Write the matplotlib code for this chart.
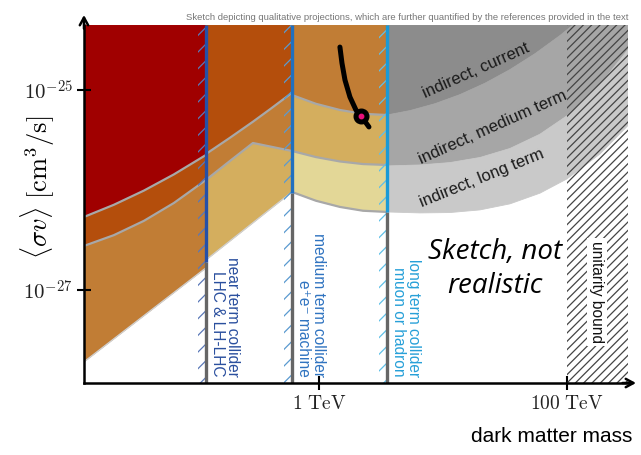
import matplotlib
matplotlib.use("Agg")
import matplotlib.pyplot as plt
from matplotlib.ticker import NullLocator

plt.rcParams["mathtext.fontset"] = "cm"
plt.rcParams["hatch.linewidth"] = 0.9

SANS = ["Liberation Sans", "DejaVu Sans"]

# Axis ranges: dark matter mass [TeV], <sigma v> [cm^3/s]
mass_range = (0.01274, 310.4)
sv_range = (1.17e-28, 4.47e-25)

# Collider reach edges (TeV) and the cross section down to which the edge is coloured
collider_mass = [0.1227, 0.6057, 3.535]
collider_colored_to = [1.9e-27, 9.3e-27, 6.0e-27]
collider_labels = ["near term collider\nLHC & LH-LHC",
                   "medium term collider\ne\u207ae\u207b machine",
                   "long term collider\nmuon or hadron"]
unitarity_mass = 100.0

# Near-term collider region
m_1 = [0.01274, 0.02222, 0.03879, 0.06771, 0.1227]
sv_a1 = [5.37e-27, 7.11e-27, 9.86e-27, 1.432e-26, 2.239e-26]
sv_b1 = [2.754e-27, 3.532e-27, 4.909e-27, 7.413e-27, 1.259e-26]
m_f1 = [0.01274, 0.1227]
sv_f1 = [1.905e-28, 1.66e-27]

# Medium-term collider region
m_2 = [0.1227, 0.1915, 0.2936, 0.4025, 0.6057]
sv_a2 = [2.291e-26, 3.327e-26, 4.819e-26, 6.412e-26, 9.376e-26]
sv_b2 = [1.259e-26, 1.950e-26, 2.951e-26, 2.723e-26, 2.455e-26]
m_f2 = [0.1227, 0.6057]
sv_f2 = [1.995e-27, 9.55e-27]

# Long-term collider region
m_3 = [0.6057, 0.9458, 1.477, 2.264, 3.535]
sv_a3 = [8.913e-26, 7.278e-26, 6.310e-26, 5.781e-26, 5.623e-26]
sv_b3 = [2.455e-26, 2.133e-26, 1.928e-26, 1.816e-26, 1.778e-26]
sv_e3 = [9.55e-27, 7.798e-27, 6.761e-27, 6.194e-27, 6.026e-27]

# Indirect detection bands
m_a4 = [3.535, 5.420, 8.619, 13.71, 21.82, 34.70, 55.20, 87.81, 139.7, 222.3, 310.4]
sv_a4 = [5.623e-26, 6.223e-26, 7.295e-26, 8.995e-26, 1.169e-25, 1.600e-25,
         2.307e-25, 3.508e-25, 5.610e-25, 9.441e-25, 1.413e-24]
m_4 = [3.535, 6.524, 11.39, 19.88, 34.70, 60.57, 100.0, 184.6, 310.4]
sv_b4 = [1.738e-26, 1.779e-26, 1.879e-26, 2.113e-26, 2.600e-26, 3.614e-26,
         5.521e-26, 1.130e-25, 2.529e-25]
sv_e4 = [6.026e-27, 5.892e-27, 5.943e-27, 6.316e-27, 7.261e-27, 9.290e-27,
         1.291e-26, 2.291e-26, 4.416e-26]

# Example model track and benchmark point
m_track = [1.476, 1.533, 1.621, 1.778, 1.988, 2.182, 2.53]
sv_track = [2.69e-25, 1.86e-25, 1.26e-25, 8.51e-26, 6.31e-26, 5.5e-26, 4.27e-26]
bench_m, bench_sv = 2.182, 5.5e-26

C_RED = "#a00000"
C_DORANGE = "#b44e0c"
C_ORANGE = "#c17d35"
C_TAN = "#d4ae5e"
C_PALE = "#e3d797"
C_GREY1 = "#8c8c8c"
C_GREY2 = "#a6a6a6"
C_GREY3 = "#c9c9c9"
C_EDGE = "#a8a8a8"

fig = plt.figure(figsize=(6.41, 4.55), dpi=100)
ax = fig.add_axes([0.1310, 0.1582, 0.8487, 0.7868])
ax.set_xscale("log")
ax.set_yscale("log")
ax.set_xlim(*mass_range)
ax.set_ylim(*sv_range)
top = sv_range[1]


def band(xu, yu, xl, yl, color):
    xs = list(xu) + list(xl)[::-1]
    ys = list(yu) + list(yl)[::-1]
    ax.fill(xs, ys, facecolor=color, edgecolor=color, lw=0.6, zorder=1)


def top_band(x0, x1, xl, yl, color):
    band([x0, x1], [top, top], xl, yl, color)


# near-term region
top_band(m_1[0], m_1[-1], m_1, sv_a1, C_RED)
band(m_1, sv_a1, m_1, sv_b1, C_DORANGE)
band(m_1, sv_b1, m_f1, sv_f1, C_ORANGE)
# medium-term region
top_band(m_2[0], m_2[-1], m_2, sv_a2, C_DORANGE)
band(m_2, sv_a2, m_2, sv_b2, C_ORANGE)
band(m_2, sv_b2, m_f2, sv_f2, C_TAN)
# long-term region
top_band(m_3[0], m_3[-1], m_3, sv_a3, C_ORANGE)
band(m_3, sv_a3, m_3, sv_b3, C_TAN)
band(m_3, sv_b3, m_3, sv_e3, C_PALE)
# indirect detection
top_band(m_a4[0], m_a4[-1], m_a4, sv_a4, C_GREY1)
band(m_a4, sv_a4, m_4, sv_b4, C_GREY2)
band(m_4, sv_b4, m_4, sv_e4, C_GREY3)

# band outlines
for xs, ys in [(m_1, sv_a1), (m_1, sv_b1), (m_2, sv_a2), (m_2, sv_b2),
               (m_3, sv_a3), (m_3, sv_b3), (m_3, sv_e3)]:
    ax.plot(xs, ys, color=C_EDGE, lw=1.6, zorder=2, solid_capstyle="butt",
            solid_joinstyle="round")
for xs, ys in [(m_f1, sv_f1), (m_f2, sv_f2)]:
    ax.plot(xs, ys, color="#d0d0d0", lw=1.0, zorder=2)

# collider reach edges
line_colors = ["#2550a8", "#2070c0", "#1a9ad6"]
hatch_colors = ["#5a78b8", "#5a9ad0", "#60c0e8"]
text_colors = ["#2a4f9e", "#2f73c0", "#27a0d8"]
strip = 0.862
for m, svc, lc, hc in zip(collider_mass, collider_colored_to, line_colors, hatch_colors):
    ax.fill_betweenx([sv_range[0], top], m * strip, m, facecolor="none",
                     edgecolor=hc, linewidth=0, hatch="//", zorder=3)
    ax.plot([m, m], [sv_range[0], svc], color="#666666", lw=2.4, zorder=4,
            solid_capstyle="butt")
    ax.plot([m, m], [svc, top], color=lc, lw=2.4, zorder=4, solid_capstyle="butt")

label_x = [0.1746, 0.862, 5.03]
for x, txt, tc in zip(label_x, collider_labels, text_colors):
    ax.text(x, 1.35e-28, txt, rotation=-90, ha="center", va="bottom",
            multialignment="right", color=tc, fontsize=11.2, family=SANS,
            linespacing=1.0, zorder=5)

# unitarity bound
ax.fill_betweenx([sv_range[0], top], unitarity_mass, mass_range[1], facecolor="none",
                 edgecolor="#444444", linewidth=0, hatch="////", zorder=3)
ax.text(174.6, 9.55e-28, "unitarity bound", rotation=-90, ha="center", va="center",
        fontsize=11.2, family=SANS, color="#111111", zorder=5,
        bbox=dict(facecolor="white", edgecolor="none", pad=2))

# indirect detection labels
for x, y, txt, ang in [(18.5, 1.58e-25, "indirect, current", 24),
                       (25.3, 4.27e-26, "indirect, medium term", 24),
                       (20.6, 1.32e-26, "indirect, long term", 22)]:
    ax.text(x, y, txt, rotation=ang, rotation_mode="anchor", ha="center",
            va="center", fontsize=12, family=SANS, color="#1a1a1a", zorder=5)

ax.text(26.3, 1.62e-27, "Sketch, not\nrealistic", ha="center", va="center",
        multialignment="center", fontsize=20, style="italic",
        family=["Open Sans", "DejaVu Sans"], linespacing=1.3, zorder=5)

# model track and benchmark
ax.plot(m_track, sv_track, color="black", lw=3.6, solid_capstyle="round",
        solid_joinstyle="round", zorder=6)
ax.plot([bench_m], [bench_sv], "o", ms=10.5, color="black", zorder=7)
ax.plot([bench_m], [bench_sv], "o", ms=3.2, color="#e8107a", zorder=8)

# axes styling
ax.set_xticks([1, 100])
ax.set_xticklabels([r"$1\ \mathrm{TeV}$", r"$100\ \mathrm{TeV}$"])
ax.set_yticks([1e-27, 1e-25])
ax.set_yticklabels([r"$10^{-27}$", r"$10^{-25}$"])
ax.xaxis.set_minor_locator(NullLocator())
ax.yaxis.set_minor_locator(NullLocator())
ax.tick_params(direction="inout", length=10, width=1.5, pad=3, labelcolor="#222222")
ax.tick_params(axis="x", labelsize=14)
ax.tick_params(axis="y", labelsize=15)
for s in ["top", "right"]:
    ax.spines[s].set_visible(False)
for s in ["left", "bottom"]:
    ax.spines[s].set_linewidth(1.8)
    ax.spines[s].set_zorder(9)

arrow = dict(arrowstyle="->,head_length=0.55,head_width=0.3", lw=1.8, color="black",
             shrinkA=0, shrinkB=0)
ax.annotate("", xy=(0, 1.028), xytext=(0, 0.99), xycoords="axes fraction",
            arrowprops=arrow, annotation_clip=False)
ax.annotate("", xy=(1.0147, 0), xytext=(0.99, 0), xycoords="axes fraction",
            arrowprops=arrow, annotation_clip=False)

fig.text(38 / 641, 1 - 187 / 455, r"$\langle \sigma v \rangle\ [\mathrm{cm}^3/\mathrm{s}]$",
         rotation=90, fontsize=19, ha="center", va="center")
fig.text(632 / 641, 1 - 437 / 455, "dark matter mass", ha="right", va="center",
         fontsize=15, family=SANS)
fig.text(629 / 641, 1 - 17 / 455,
         "Sketch depicting qualitative projections, which are further quantified "
         "by the references provided in the text",
         ha="right", va="center", fontsize=6.8, family=SANS, color="#777777")

fig.savefig("out.png", dpi=100)
